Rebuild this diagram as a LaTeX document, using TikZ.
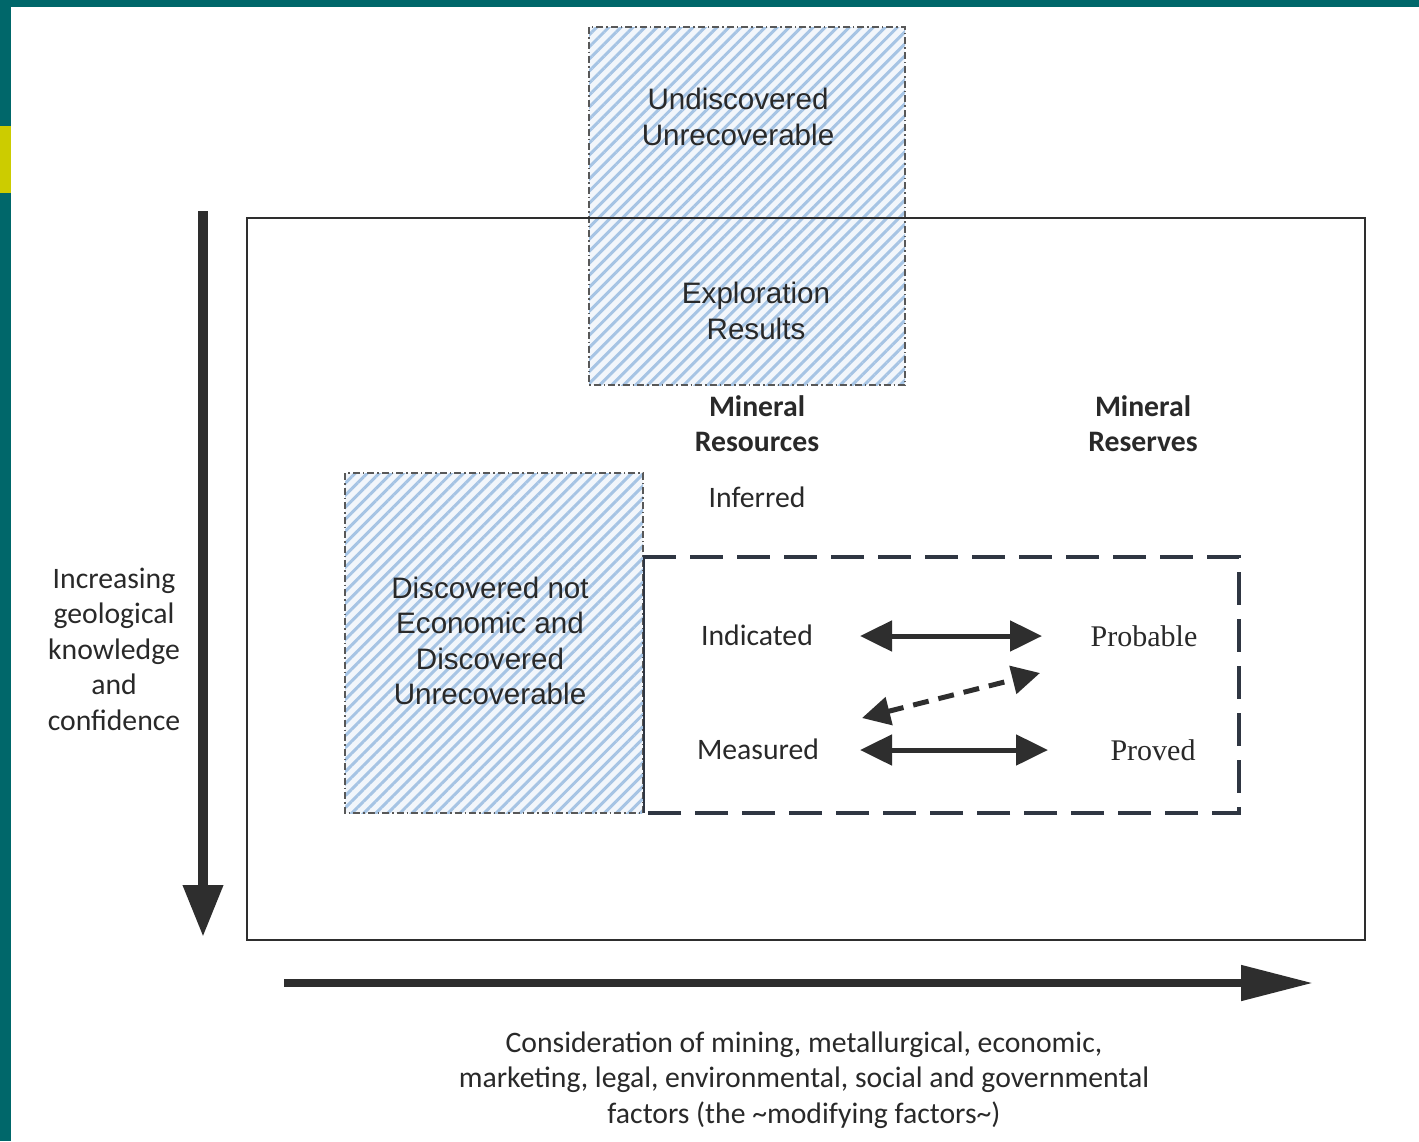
\documentclass[tikz,border=0pt]{standalone}
\usepackage{fontspec}
\setmainfont{Carlito}
\newfontfamily\arialf{Liberation Sans}
\newfontfamily\timesf{Liberation Serif}
\usetikzlibrary{arrows.meta,patterns.meta}
\definecolor{frameteal}{HTML}{00676A}
\definecolor{frameyellow}{HTML}{CCCC00}
\definecolor{hatchblue}{HTML}{A6C4E4}
\definecolor{hatchbg}{HTML}{F2F6FB}
\definecolor{ink}{HTML}{2E2E2E}
\definecolor{dashink}{HTML}{2F3642}
\begin{document}
\begin{tikzpicture}[x=1pt,y=-1pt,
  hatchfill/.style={fill=hatchbg,postaction={pattern={Lines[angle=45,distance=8.5pt,line width=3pt]},pattern color=hatchblue}},
  hatchedge/.style={draw=ink!80,line width=1.3pt,dash pattern=on 7pt off 3pt on 1.5pt off 3pt},
  ariallbl/.style={font=\arialf\fontsize{29.6}{35.5}\selectfont,text=ink!90!black,align=center,inner sep=0pt},
  callbl/.style={font=\fontsize{29.7}{35.5}\selectfont,text=ink!90!black,align=center,inner sep=0pt},
  boldlbl/.style={font=\bfseries\fontsize{29.7}{35}\selectfont,text=ink!90!black,align=center,inner sep=0pt},
  timeslbl/.style={font=\timesf\fontsize{30}{35}\selectfont,text=ink!90!black,align=center,inner sep=0pt},
  dblarrow/.style={ink,line width=5pt,{Triangle[length=32pt,width=30pt]}-{Triangle[length=32pt,width=30pt]}},
  dashdbl/.style={ink,line width=5pt,dash pattern=on 16pt off 10pt,{Triangle[length=28pt,width=28pt]}-{Triangle[length=28pt,width=28pt]}},
]
\useasboundingbox (0,0) rectangle (1419,1141);
\fill[white] (0,0) rectangle (1419,1141);
\fill[frameteal] (0,0) rectangle (1419,7);
\fill[frameteal] (0,0) rectangle (11,1141);
\fill[frameyellow] (0,126) rectangle (11,193);

% hatched areas
\path[hatchfill] (589,27) rectangle (905,385);
\path[hatchedge] (589,27) rectangle (905,385);
\path[hatchfill] (345,473) rectangle (643,813);
\path[hatchedge] (345,473) rectangle (643,813);

% outer box
\draw[ink,line width=2.4pt] (247,218) rectangle (1365,940);

% dashed box
\draw[dashink,line width=3.4pt,dash pattern=on 33pt off 14pt] (643,557) -- (1239,557) -- (1239,813) -- (645,813);
\draw[dashink,line width=2.4pt] (644,557) -- (644,813);

% texts
\node[ariallbl] (undisc) at (738,117) {Undiscovered\\Unrecoverable};
\node[ariallbl] (explor) at (756,311) {Exploration\\Results};
\node[ariallbl] (discnot) at (490,641) {Discovered not\\Economic and\\Discovered\\Unrecoverable};
\node[boldlbl] (minres) at (757,424) {Mineral\\Resources};
\node[boldlbl] (minresv) at (1143,424) {Mineral\\Reserves};
\node[callbl] (inferred) at (757,497) {Inferred};
\node[callbl] (indicated) at (757,635) {Indicated};
\node[callbl] (measured) at (758,749) {Measured};
\node[timeslbl] (probable) at (1144,636) {Probable};
\node[timeslbl] (proved) at (1153,750) {Proved};
\node[callbl] (increasing) at (114,649) {Increasing\\geological\\knowledge\\and\\confidence};
\node[callbl] (consider) at (804,1080) {Consideration of mining, metallurgical, economic,\\marketing, legal, environmental, social and governmental\\factors (the \textasciitilde modifying factors\textasciitilde)};

% arrows between resources and reserves
\coordinate (indR) at (860,636);
\coordinate (probL) at (1042,636);
\coordinate (meaR) at (860,750);
\coordinate (provL) at (1048,750);
\coordinate (meaU) at (862,718);
\coordinate (probD) at (1040,673);
\draw[dblarrow] (indR) -- (probL);
\draw[dblarrow] (meaR) -- (provL);
\draw[dashdbl] (meaU) -- (probD);

% axis arrows
\coordinate (vtop) at (203,211);
\coordinate (vbot) at (203,937);
\coordinate (hleft) at (284,983);
\coordinate (hright) at (1313,983);
\draw[ink,line width=10pt,-{Triangle[length=52pt,width=38pt]}] (vtop) -- (vbot);
\draw[ink,line width=8pt,-{Triangle[length=72pt,width=34pt]}] (hleft) -- (hright);
\end{tikzpicture}
\end{document}
